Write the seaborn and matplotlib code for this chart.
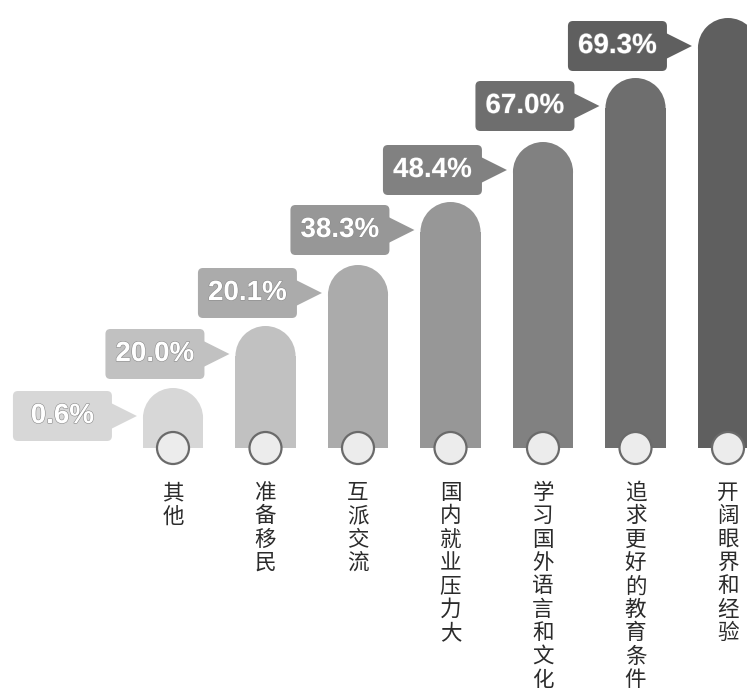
import pandas as pd
import matplotlib
matplotlib.use("Agg")
import matplotlib.pyplot as plt
import matplotlib.patheffects as pe
import seaborn as sns
from matplotlib.patches import Ellipse, FancyBboxPatch, Polygon

categories = ["其他", "准备移民", "互派交流", "国内就业压力大",
              "学习国外语言和文化", "追求更好的教育条件", "开阔眼界和经验"]
percent_labels = ["0.6%", "20.0%", "20.1%", "38.3%", "48.4%", "67.0%", "69.3%"]
# the graphic draws a staircase, not bars proportional to the percentages;
# these are the drawn heights (pixels above the baseline)
bar_heights = [60, 122, 183, 246, 306, 370, 430]
bar_colors = ["#d7d7d7", "#c1c1c1", "#ababab", "#979797", "#818181", "#6e6e6e", "#5f5f5f"]

W, H = 747, 699
PX = 92.5    # pixels per category step
X0 = 173     # pixel column of the first bar centre
BASE = 448   # pixel row of the baseline

sns.set_style("white")
plt.rcParams["font.family"] = ["Noto Sans CJK SC", "DejaVu Sans"]

fig = plt.figure(figsize=(W / 100, H / 100), dpi=100)
ax = fig.add_axes([0, 0, 1, 1])

df = pd.DataFrame({"category": categories, "height": bar_heights})
sns.barplot(data=df, x="category", y="height", hue="category", palette=bar_colors,
            width=0.65, saturation=1, legend=False, ax=ax)
ax.set_xlim(-X0 / PX, (W - X0) / PX)
ax.set_ylim(BASE - H, BASE)
ax.axis("off")

bars = sorted(ax.patches, key=lambda p: p.get_x())
for bar, color, label, name in zip(bars, bar_colors, percent_labels, categories):
    x, w, h = bar.get_x(), bar.get_width(), bar.get_height()
    cx = x + w / 2
    r = w * PX / 2  # cap radius in y units
    bar.set_height(h - r)
    bar.set_linewidth(0)
    ax.add_patch(Ellipse((cx, h - r), w, 2 * r, facecolor=color, lw=0))

    # wheel at the foot of the bar
    ax.add_patch(Ellipse((cx, 0), 32 / PX, 32, facecolor="#ececec",
                         edgecolor="#6a6a6a", lw=1.6, zorder=3))

    # value tag with pointer
    box_left = x - 130 / PX
    box_w = 99 / PX
    box_top = h - 3
    yc = box_top - 25
    ax.add_patch(FancyBboxPatch((box_left, box_top - 50), box_w, 50,
                                boxstyle="round,pad=0,rounding_size=%f" % (5 / PX),
                                mutation_aspect=PX, facecolor=color, lw=0))
    ax.add_patch(Polygon([(box_left + box_w - 1 / PX, yc + 13), (x - 6 / PX, yc),
                          (box_left + box_w - 1 / PX, yc - 13)],
                         closed=True, facecolor=color, lw=0))
    ax.text(box_left + box_w / 2, yc, label, ha="center", va="center", color="white",
            fontsize=20, fontweight="bold",
            family=["Liberation Sans Narrow", "Liberation Sans", "DejaVu Sans"],
            path_effects=[pe.withStroke(linewidth=0.8, foreground="#8a8a8a")])

    # vertical category label
    ax.text(cx, -34, "\n".join(name), ha="center", va="top", fontsize=15.5,
            linespacing=1.08, color="#2b2b2b")

fig.savefig("out.png", dpi=100)
